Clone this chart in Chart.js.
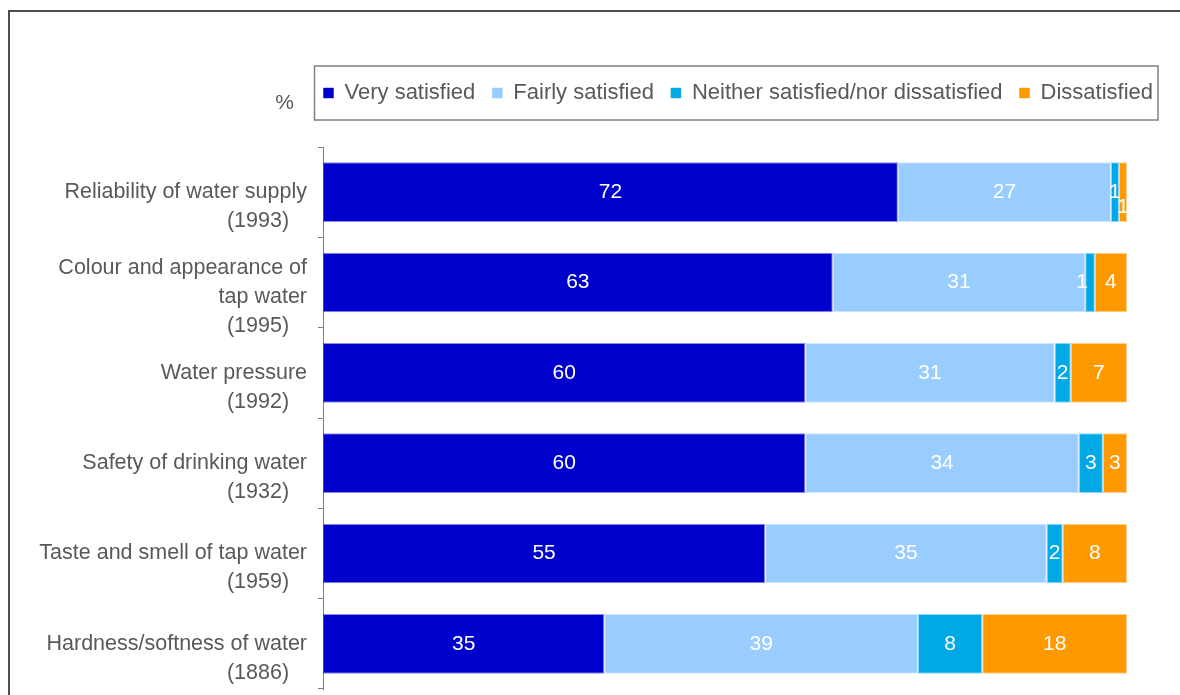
<!DOCTYPE html>
<html>
<head>
<meta charset="utf-8">
<title>Satisfaction with water services</title>
<script src="https://cdn.jsdelivr.net/npm/chart.js@4.4.1/dist/chart.umd.min.js"></script>
<style>
  html, body { margin: 0; padding: 0; background: #fff; }
  #wrap { position: relative; width: 1180px; height: 695px; }
</style>
</head>
<body>
<div id="wrap"><canvas id="satisfaction-chart"></canvas></div>
<script>
// --- DATA ---
const categoryLines = [
    ['Reliability of water supply'],
    ['Colour and appearance of', 'tap water'],
    ['Water pressure'],
    ['Safety of drinking water'],
    ['Taste and smell of tap water'],
    ['Hardness/softness of water']
];
const baseCounts = ['1993', '1995', '1992', '1932', '1959', '1886'];

const seriesNames = ['Very satisfied', 'Fairly satisfied', 'Neither satisfied/nor dissatisfied', 'Dissatisfied'];
const verySatisfied = [71.5, 63.4, 60, 60, 55, 35];
const fairlySatisfied = [26.5, 31.4, 31, 34, 35, 39];
const neitherSatisfied = [1, 1.2, 2, 3, 2, 8];
const dissatisfied = [1, 4, 7, 3, 8, 18];

const seriesColors = ['#0000CC', '#99CCFF', '#00A9E6', '#FF9900'];
const textColor = '#595959';
const fontFamily = '"Liberation Sans", Arial, sans-serif';

// leading blank line keeps the first text line level with the bar, like the original
const categoryLabels = categoryLines.map((lines, i) => ['', ...lines, `(${baseCounts[i]})   `]);

// small nudges for the "1" labels that would collide
const labelNudges = { '3-0': [0, 15], '2-1': [-8, 0] };

const hexToRgba = (hex, a) => {
    const n = parseInt(hex.slice(1), 16);
    return `rgba(${(n >> 16) & 255}, ${(n >> 8) & 255}, ${n & 255}, ${a})`;
};

// --- PLUGINS ---
const frameAndLegendPlugin = {
    id: 'frameAndLegend',
    beforeInit(chart) {
        const originalFit = chart.legend.fit;
        chart.legend.fit = function () {
            originalFit.call(this);
            this.height += 33;
        };
    },
    afterLayout(chart) {
        // legend runs past the plot, out to the right like the source
        chart.legend.right = 1170;
    },
    beforeDraw(chart) {
        const { ctx } = chart;
        ctx.save();
        ctx.strokeStyle = '#4d4d4d';
        ctx.lineWidth = 2;
        ctx.strokeRect(9, 11, 1300, 900);
        ctx.restore();
    },
    afterDraw(chart) {
        const { ctx } = chart;
        const boxes = chart.legend.legendHitBoxes;
        if (!boxes || !boxes.length) return;
        const first = boxes[0];
        const last = boxes[boxes.length - 1];
        const left = first.left - 9;
        const right = last.left + last.width + 5;
        const top = first.top - 16;
        const bottom = first.top + first.height + 16;

        ctx.save();
        ctx.strokeStyle = '#808080';
        ctx.lineWidth = 1.5;
        ctx.strokeRect(left, top, right - left, bottom - top);

        ctx.fillStyle = textColor;
        ctx.font = `21px ${fontFamily}`;
        ctx.textAlign = 'center';
        ctx.textBaseline = 'middle';
        ctx.fillText('%', left - 30, first.top + first.height / 2 + 10);
        ctx.restore();
    }
};

const barValuesPlugin = {
    id: 'barValues',
    afterDatasetsDraw(chart) {
        const { ctx } = chart;
        ctx.save();
        ctx.fillStyle = '#ffffff';
        ctx.font = `21px ${fontFamily}`;
        ctx.textAlign = 'center';
        ctx.textBaseline = 'middle';
        chart.data.datasets.forEach((ds, i) => {
            const meta = chart.getDatasetMeta(i);
            meta.data.forEach((bar, j) => {
                const nudge = labelNudges[`${i}-${j}`] || [0, 0];
                const x = (bar.x + bar.base) / 2 + nudge[0];
                const y = bar.y + nudge[1];
                ctx.fillText(String(Math.round(ds.data[j])), x, y);
            });
        });
        ctx.restore();
    }
};

// --- CHART ---
const seriesValues = [verySatisfied, fairlySatisfied, neitherSatisfied, dissatisfied];

new Chart(document.querySelector('#satisfaction-chart'), {
    type: 'bar',
    data: {
        labels: categoryLabels,
        datasets: seriesNames.map((name, i) => ({
            label: name,
            data: seriesValues[i],
            backgroundColor: seriesColors[i],
            borderColor: hexToRgba(seriesColors[i], 0.45),
            borderWidth: 1,
            borderSkipped: false,
            barPercentage: 0.66,
            categoryPercentage: 1
        }))
    },
    options: {
        indexAxis: 'y',
        responsive: true,
        maintainAspectRatio: false,
        animation: false,
        devicePixelRatio: 1,
        layout: {
            padding: { top: 65, right: 53, bottom: 6, left: 0 }
        },
        scales: {
            x: {
                stacked: true,
                display: false,
                min: 0,
                max: 100
            },
            y: {
                stacked: true,
                afterFit: (scale) => {
                    scale.width = 323;
                    scale.paddingTop = 0;
                    scale.paddingBottom = 0;
                },
                grid: {
                    drawOnChartArea: false,
                    drawTicks: true,
                    tickLength: 5,
                    color: '#808080'
                },
                border: { display: true, color: '#808080', width: 1 },
                ticks: {
                    autoSkip: false,
                    color: textColor,
                    padding: 11,
                    font: { family: fontFamily, size: 21.5, lineHeight: 1.35 }
                }
            }
        },
        plugins: {
            legend: {
                position: 'top',
                align: 'end',
                labels: {
                    color: textColor,
                    boxWidth: 10,
                    boxHeight: 10,
                    padding: 17,
                    font: { family: fontFamily, size: 22 }
                }
            },
            tooltip: { enabled: false }
        }
    },
    plugins: [frameAndLegendPlugin, barValuesPlugin]
});
</script>
</body>
</html>
